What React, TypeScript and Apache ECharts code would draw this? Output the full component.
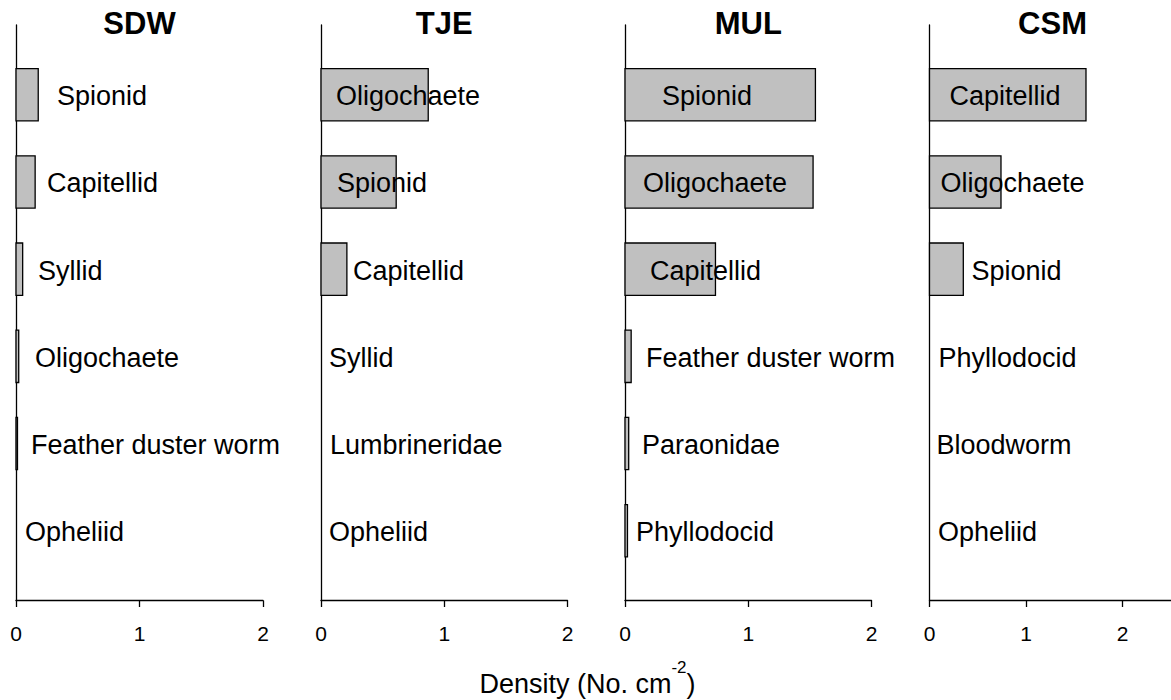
import React, { useEffect, useRef } from "react";
import * as echarts from "echarts";

// ---- data ----
const SITES = ["SDW", "TJE", "MUL", "CSM"];

const SDW_TAXA = ["Spionid", "Capitellid", "Syllid", "Oligochaete", "Feather duster worm", "Opheliid"];
const SDW_DENSITY = [0.18, 0.155, 0.054, 0.022, 0.012, 0];

const TJE_TAXA = ["Oligochaete", "Spionid", "Capitellid", "Syllid", "Lumbrineridae", "Opheliid"];
const TJE_DENSITY = [0.87, 0.61, 0.21, 0, 0, 0];

const MUL_TAXA = ["Spionid", "Oligochaete", "Capitellid", "Feather duster worm", "Paraonidae", "Phyllodocid"];
const MUL_DENSITY = [1.545, 1.526, 0.734, 0.05, 0.03, 0.02];

const CSM_TAXA = ["Capitellid", "Oligochaete", "Spionid", "Phyllodocid", "Bloodworm", "Opheliid"];
const CSM_DENSITY = [1.62, 0.74, 0.35, 0, 0, 0];

const X_TICKS = [0, 1, 2];
const X_MAX = [2, 2, 2, 2.5];
const AXIS_TITLE = "Density (No. cm";
const AXIS_TITLE_SUP = "-2";

const TAXA = [SDW_TAXA, TJE_TAXA, MUL_TAXA, CSM_TAXA];
const DENSITY = [SDW_DENSITY, TJE_DENSITY, MUL_DENSITY, CSM_DENSITY];

// ---- layout (not data) ----
const GRID_LEFT = [16, 321, 625, 929.5];
const GRID_WIDTH = [247, 246.5, 246.5, 246];
const GRID_TOP = 25;
const GRID_HEIGHT = 575.5;
const LABEL_INSET = [
  [41, 31, 22, 19, 15, 9],
  [15, 16, 32, 8, 9, 8],
  [37, 18, 25, 21, 17, 11],
  [20, 11, 42, 9, 7, 8.5],
];
const FONT = "'Liberation Sans', Arial, Helvetica, sans-serif";

export default function App() {
  const ref = useRef<HTMLDivElement>(null);

  useEffect(() => {
    if (!ref.current) return;
    const chart = echarts.init(ref.current, undefined, { renderer: "svg" });

    const grid = SITES.map((_, i) => ({
      left: GRID_LEFT[i],
      top: GRID_TOP,
      width: GRID_WIDTH[i],
      height: GRID_HEIGHT,
      containLabel: false,
    }));

    const xAxis = SITES.map((_, i) => ({
      type: "value",
      gridIndex: i,
      min: 0,
      max: X_MAX[i],
      interval: 1,
      axisLine: { show: true, onZero: false, lineStyle: { color: "#000", width: 1.3 } },
      axisTick: { show: true, inside: false, length: 6.5, lineStyle: { color: "#000", width: 1.3 } },
      axisLabel: {
        show: true,
        margin: 22,
        color: "#000",
        fontSize: 21,
        fontFamily: FONT,
        showMaxLabel: X_TICKS.includes(X_MAX[i]),
        formatter: (v: number) => (X_TICKS.includes(v) ? String(v) : ""),
      },
      splitLine: { show: false },
    }));

    const yAxis = SITES.map((_, i) => ({
      type: "value",
      gridIndex: i,
      min: 0.2,
      max: 6.8,
      inverse: true,
      axisLine: { show: true, onZero: false, lineStyle: { color: "#000", width: 1.3 } },
      axisTick: { show: false },
      axisLabel: { show: false },
      splitLine: { show: false },
    }));

    const series = SITES.map((site, i) => ({
      type: "custom",
      name: site,
      xAxisIndex: i,
      yAxisIndex: i,
      encode: { x: 0, y: 1 },
      data: DENSITY[i].map((v, k) => [v, k + 1]),
      renderItem: (params: any, api: any) => {
        const v = api.value(0);
        const row = api.value(1);
        const start = api.coord([0, row]);
        const end = api.coord([v, row]);
        const h = api.size([0, 0.6])[1];
        const children: any[] = [];
        if (v > 0) {
          children.push({
            type: "rect",
            shape: { x: start[0], y: start[1] - h / 2, width: end[0] - start[0], height: h },
            style: { fill: "#C0C0C0", stroke: "#000", lineWidth: 1.3 },
          });
        }
        children.push({
          type: "text",
          x: start[0] + LABEL_INSET[i][params.dataIndex],
          y: start[1] + 1.5,
          style: {
            text: TAXA[i][params.dataIndex],
            fill: "#000",
            fontSize: 27,
            fontFamily: FONT,
            align: "left",
            verticalAlign: "middle",
          },
        });
        return { type: "group", children };
      },
    }));

    const title = SITES.map((site, i) => ({
      text: site,
      left: GRID_LEFT[i] + GRID_WIDTH[i] / 2,
      top: 9.5,
      textAlign: "center",
      textVerticalAlign: "top",
      padding: 0,
      textStyle: { fontSize: 31, fontWeight: "bold", color: "#000", fontFamily: FONT, lineHeight: 28 },
    }));

    chart.setOption({
      animation: false,
      backgroundColor: "#fff",
      title,
      grid,
      xAxis,
      yAxis,
      series,
      graphic: [
        {
          type: "text",
          x: 587.5,
          y: 684,
          style: {
            text: `{a|${AXIS_TITLE}}{s|${AXIS_TITLE_SUP}}{a|)}`,
            align: "center",
            verticalAlign: "middle",
            fill: "#000",
            rich: {
              a: { fontSize: 27, fontFamily: FONT, fill: "#000", color: "#000" },
              s: { fontSize: 17, fontFamily: FONT, fill: "#000", color: "#000", verticalAlign: "top", padding: [0, 0, 34, 0] },
            },
          },
        },
      ],
    });

    return () => chart.dispose();
  }, []);

  return (
    <div
      ref={ref}
      style={{ position: "fixed", left: 0, top: 0, width: 1171, height: 700, background: "#fff" }}
    />
  );
}
